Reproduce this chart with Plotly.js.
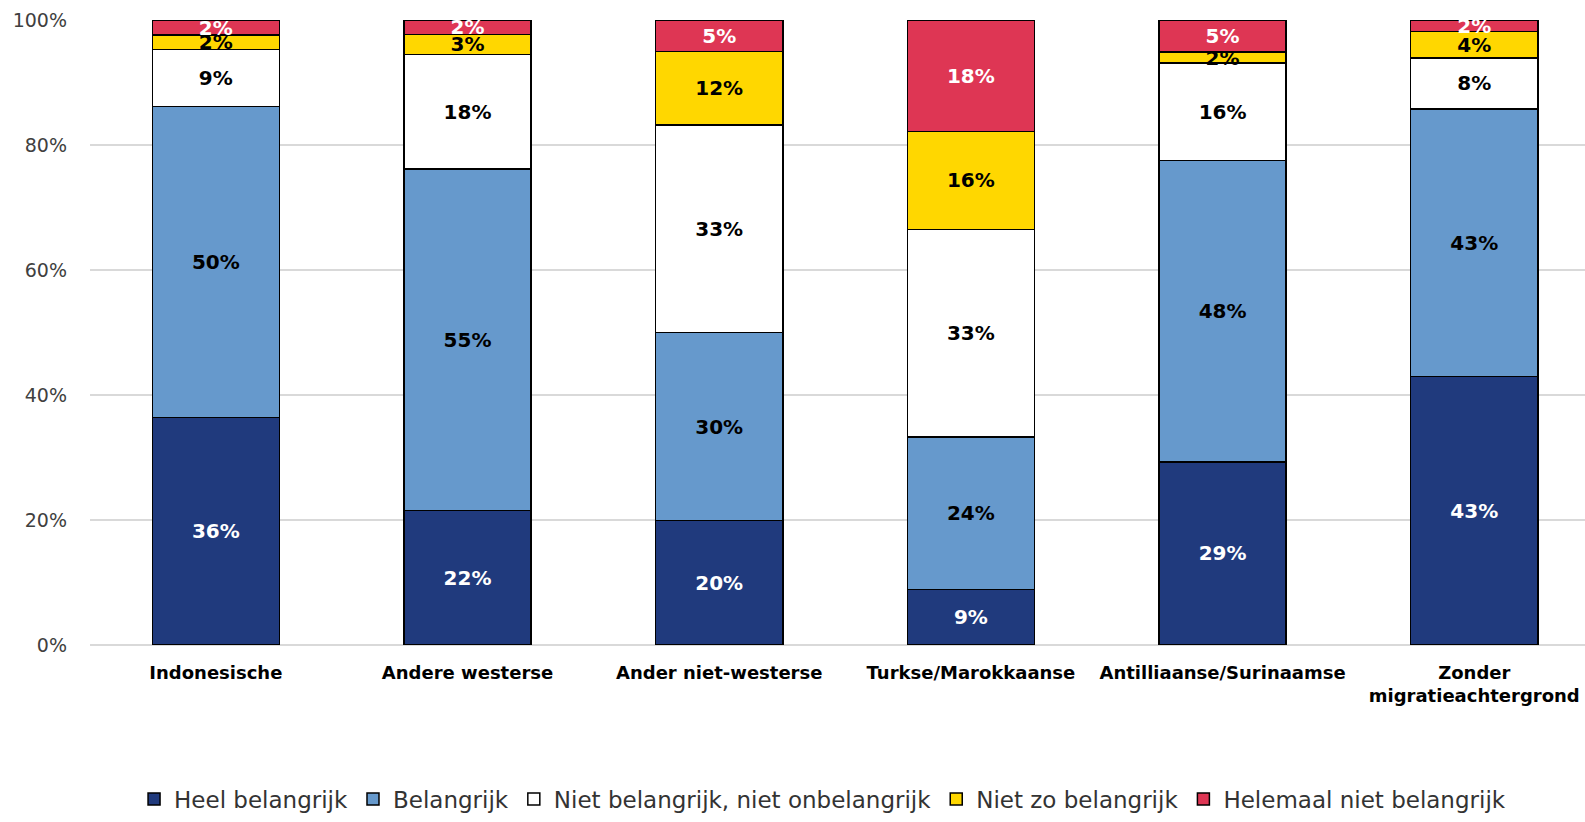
<!DOCTYPE html>
<html>
<head>
<meta charset="utf-8">
<script src="https://cdn.plot.ly/plotly-3.0.1.min.js"></script>
<style>
  html, body { margin: 0; padding: 0; background: #fff; }
  #chart { width: 1585px; height: 822px; }
</style>
</head>
<body>
<div id="chart"></div>
<script>
const categories = ["Indonesische", "Andere westerse", "Ander niet-westerse", "Turkse/Marokkaanse", "Antilliaanse/Surinaamse", "Zonder<br>migratieachtergrond"];
const seriesNames = ["Heel belangrijk", "Belangrijk", "Niet belangrijk, niet onbelangrijk", "Niet zo belangrijk", "Helemaal niet belangrijk"];
const heelBelangrijk = [36.4, 21.5, 19.9, 8.9, 29.3, 43.0];
const belangrijk = [49.8, 54.7, 30.1, 24.4, 48.2, 42.8];
const nietBelangrijkNietOnbelangrijk = [9.1, 18.3, 33.2, 33.2, 15.6, 8.1];
const nietZoBelangrijk = [2.3, 3.2, 11.8, 15.7, 1.8, 4.3];
const helemaalNietBelangrijk = [2.4, 2.3, 5.0, 17.8, 5.1, 1.8];

const seriesValues = [heelBelangrijk, belangrijk, nietBelangrijkNietOnbelangrijk, nietZoBelangrijk, helemaalNietBelangrijk];
const colors = ["#203A7D", "#6699CC", "#FFFFFF", "#FFD700", "#DE3654"];
const textColors = ["#FFFFFF", "#000000", "#000000", "#000000", "#FFFFFF"];

const font = "'DejaVu Sans', 'Noto Sans', sans-serif";

const traces = seriesValues.map((vals, i) => ({
  type: "bar",
  name: seriesNames[i],
  x: categories,
  y: vals,
  width: 0.505,
  marker: { color: colors[i], line: { color: "#000000", width: 1.5 } },
  text: vals.map(v => Math.round(v) + "%"),
  textposition: "inside",
  insidetextanchor: "middle",
  textangle: 0,
  constraintext: "none",
  textfont: { family: font, size: 20, color: textColors[i], weight: "bold" },
  cliponaxis: false,
  hoverinfo: "skip"
}));

const layout = {
  width: 1585,
  height: 822,
  barmode: "stack",
  paper_bgcolor: "#ffffff",
  plot_bgcolor: "#ffffff",
  margin: { l: 90, r: 0, t: 20, b: 177 },
  font: { family: font, color: "#000000" },
  uniformtext: { mode: "show", minsize: 20 },
  xaxis: {
    type: "category",
    range: [-0.5, 5.44],
    showgrid: false,
    showline: false,
    zeroline: false,
    ticks: "",
    tickfont: { family: font, size: 18, color: "#000000", weight: "bold" },
    ticklabelstandoff: 15
  },
  yaxis: {
    range: [0, 100],
    dtick: 20,
    ticksuffix: "%",
    showgrid: true,
    gridcolor: "#D9D9D9",
    gridwidth: 1.5,
    zeroline: true,
    zerolinecolor: "#D9D9D9",
    zerolinewidth: 1.5,
    showline: false,
    ticks: "",
    tickfont: { family: font, size: 19, color: "#404040" },
    ticklabelstandoff: 22
  },
  legend: {
    orientation: "h",
    x: 0.49,
    xanchor: "center",
    y: -0.281,
    yanchor: "bottom",
    font: { family: font, size: 23, color: "#333333" },
    traceorder: "normal",
    itemwidth: 30,
    itemclick: false
  },
  showlegend: true
};

Plotly.newPlot("chart", traces, layout, { displayModeBar: false, staticPlot: true });
</script>
</body>
</html>
